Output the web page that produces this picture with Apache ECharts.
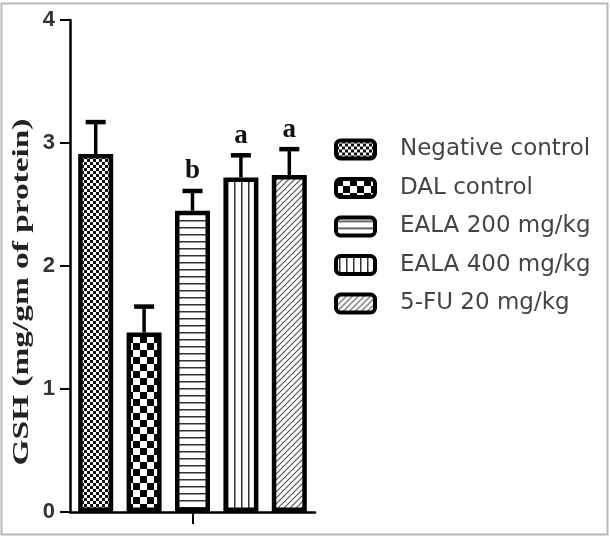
<!DOCTYPE html>
<html><head><meta charset="utf-8">
<script src="https://cdn.jsdelivr.net/npm/echarts@6/dist/echarts.min.js"></script>
<style>html,body{margin:0;padding:0;background:#fff}#c{width:610px;height:537px}</style>
</head><body><div id="c"></div>
<script>
const categories = [''];
const seriesNames = ['Negative control', 'DAL control', 'EALA 200 mg/kg', 'EALA 400 mg/kg', '5-FU 20 mg/kg'];
const means = [2.91, 1.46, 2.45, 2.72, 2.74];
const errors = [0.26, 0.21, 0.16, 0.18, 0.21];
const sigLabels = ['', '', 'b', 'a', 'a'];
const yTicks = [0, 1, 2, 3, 4];
const yTitle = 'GSH (mg/gm of protein)';

const BAR_W = 35;
const BAR_GAP = 0.383;
const STEP = BAR_W * (1 + BAR_GAP);

function makeTile(w, h, draw) {
  const c = document.createElement('canvas');
  c.width = w; c.height = h;
  const g = c.getContext('2d');
  g.fillStyle = '#fff'; g.fillRect(0, 0, w, h);
  draw(g);
  return c;
}
const patterns = [
  makeTile(6, 6, g => { g.fillStyle = '#111'; g.fillRect(0, 0, 3, 3); g.fillRect(3, 3, 3, 3); }),
  makeTile(14, 14, g => { g.fillStyle = '#000'; g.fillRect(0, 0, 7, 7); g.fillRect(7, 7, 7, 7); }),
  makeTile(8, 7, g => { g.fillStyle = '#333'; g.fillRect(0, 3, 8, 1.5); }),
  makeTile(7, 8, g => { g.fillStyle = '#333'; g.fillRect(3, 0, 1.5, 8); }),
  makeTile(6, 6, g => {
    g.strokeStyle = '#555'; g.lineWidth = 1.2; g.beginPath();
    g.moveTo(-1, 7); g.lineTo(7, -1);
    g.moveTo(-1, 1); g.lineTo(1, -1);
    g.moveTo(5, 7); g.lineTo(7, 5);
    g.stroke();
  })
];

const chart = echarts.init(document.getElementById('c'), null, {renderer: 'canvas'});

const barSeries = seriesNames.map((name, i) => ({
  name: name,
  type: 'bar',
  barWidth: BAR_W,
  barGap: (BAR_GAP * 100) + '%',
  data: [means[i]],
  itemStyle: {
    color: {image: patterns[i], repeat: 'repeat'},
    borderColor: '#000',
    borderWidth: 4.5
  },
  emphasis: {disabled: true},
  z: 2
}));

const errData = means.map((m, i) => [0, m, errors[i], i]);

const errSeries = {
  type: 'custom',
  name: 'err',
  data: errData,
  encode: {x: 0, y: 1},
  z: 5,
  silent: true,
  renderItem: function (params, api) {
    const m = api.value(1), e = api.value(2), i = api.value(3);
    const p0 = api.coord([0, m]);
    const p1 = api.coord([0, m + e]);
    const x = p0[0] + (i - 2) * STEP;
    const capHalf = 10;
    const children = [
      {type: 'line', shape: {x1: x, y1: p0[1], x2: x, y2: p1[1]}, style: {stroke: '#000', lineWidth: 3.5}},
      {type: 'line', shape: {x1: x - capHalf, y1: p1[1], x2: x + capHalf, y2: p1[1]}, style: {stroke: '#000', lineWidth: 4.5}}
    ];
    const lab = sigLabels[i];
    if (lab) {
      children.push({type: 'text', x: x, y: p1[1] - 6, style: {
        text: lab, font: 'bold 27px "Liberation Serif"', fill: '#111', align: 'center', verticalAlign: 'bottom'
      }});
    }
    return {type: 'group', children: children};
  }
};

chart.setOption({
  animation: false,
  backgroundColor: '#fff',
  grid: {left: 70, top: 20, width: 245, height: 492, containLabel: false},
  legend: {
    data: seriesNames,
    orient: 'vertical',
    left: 329,
    top: 133,
    itemWidth: 39,
    itemHeight: 18,
    itemGap: 15.5,
    icon: 'roundRect',
    selectedMode: false,
    itemStyle: {borderWidth: 4, borderColor: '#000'},
    textStyle: {fontFamily: 'DejaVu Sans', fontSize: 23, color: '#444', lineHeight: 22, padding: [0, 0, 0, 20]}
  },
  xAxis: {
    type: 'category',
    data: categories,
    axisLine: {lineStyle: {color: '#000', width: 2.5}},
    axisTick: {show: true, alignWithLabel: true, length: 12, lineStyle: {color: '#000', width: 2}},
    axisLabel: {show: false},
    splitLine: {show: false}
  },
  yAxis: {
    type: 'value',
    min: yTicks[0],
    max: yTicks[yTicks.length - 1],
    interval: 1,
    axisLine: {show: true, lineStyle: {color: '#000', width: 2.5}},
    axisTick: {show: true, length: 10, lineStyle: {color: '#000', width: 2}},
    axisLabel: {margin: 15, fontFamily: 'Liberation Sans', fontWeight: 'bold', fontSize: 22, color: '#333'},
    splitLine: {show: false}
  },
  graphic: [
    {type: 'rect', shape: {x: 1.5, y: 3.5, width: 606, height: 531}, style: {fill: 'none', stroke: '#b8b8b8', lineWidth: 2}, z: 0},
    {type: 'text', x: 22, y: 292, rotation: Math.PI / 2, scaleX: 1.45,
      style: {text: yTitle, font: 'bold 23px "Liberation Serif"', fill: '#222', align: 'center', verticalAlign: 'middle'}}
  ],
  series: barSeries.concat([errSeries])
});
</script>
</body></html>
